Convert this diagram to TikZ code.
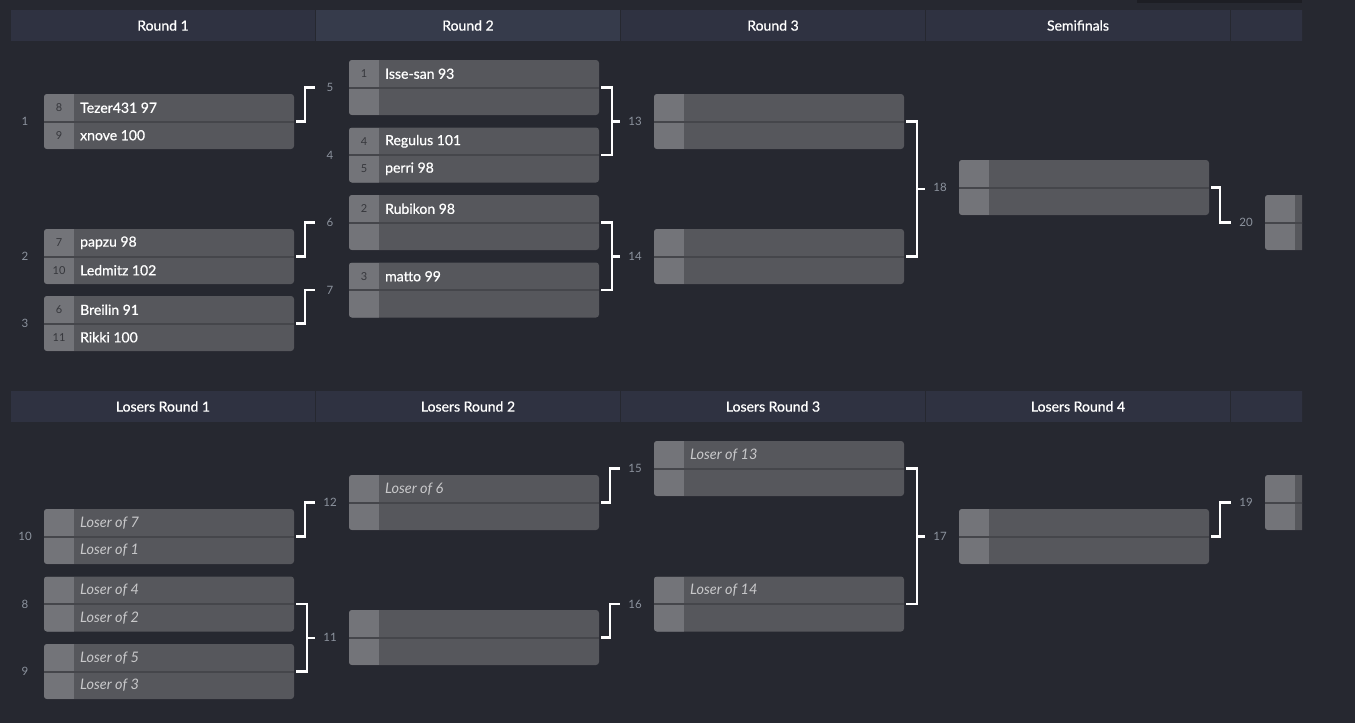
\documentclass[tikz,border=0pt]{standalone}
\usepackage{fontspec}
\setmainfont{Lato}
\newfontfamily\semifont[FakeBold=0.7]{Lato}
\usetikzlibrary{calc}
\definecolor{bg}{HTML}{262830}
\definecolor{hdr}{HTML}{2F3241}
\definecolor{hdrsel}{HTML}{363B4B}
\definecolor{boxcol}{HTML}{56575C}
\definecolor{seedcol}{HTML}{737479}
\definecolor{divcol}{HTML}{45464B}
\definecolor{seedtxt}{HTML}{36373C}
\definecolor{numcol}{HTML}{8C939E}
\definecolor{losertxt}{HTML}{C8C8CA}
\definecolor{strip}{HTML}{1D1E24}
\tikzset{
  hdrbar/.style={rectangle, fill=hdr, minimum width=304pt, minimum height=31pt, inner sep=0pt,
    text=white, font=\semifont\fontsize{14}{16}\selectfont},
  matchbox/.style={rectangle, rounded corners=3pt, fill=boxcol, minimum width=250pt, minimum height=55pt, inner sep=0pt},
  nametext/.style={anchor=west, inner sep=0pt, text=white, font=\semifont\fontsize{14}{16}\selectfont},
  losertext/.style={anchor=west, inner sep=0pt, text=losertxt, font=\fontsize{14.5}{16}\selectfont\itshape},
  seedtext/.style={inner sep=0pt, text=seedtxt, font=\fontsize{11}{12}\selectfont},
  mnum/.style={inner sep=0pt, text=numcol, font=\fontsize{11.5}{13}\selectfont},
  conn/.style={draw=white, line width=2.5pt},
  divider/.style={draw=divcol, line width=2pt}
}
% #1 name, #2 x left, #3 y centre, #4 seed1, #5 text1, #6 seed2, #7 text2, #8 text style, #9 match number
\newcommand\bmatch[9]{%
  \node[matchbox] (#1) at (#2+125,#3) {};
  \begin{scope}
    \clip[rounded corners=3pt] (#2,#3-27.5) rectangle (#2+250,#3+27.5);
    \fill[seedcol] (#2,#3-27.5) rectangle (#2+30,#3+27.5);
  \end{scope}
  \draw[divider] (#2,#3) -- (#2+250,#3);
  \if\relax\detokenize{#4}\relax\else\node[seedtext] (#1-s1) at (#2+15,#3-13.75) {#4};\fi
  \if\relax\detokenize{#5}\relax\else\node[#8] (#1-t1) at (#2+36,#3-13.75) {#5};\fi
  \if\relax\detokenize{#6}\relax\else\node[seedtext] (#1-s2) at (#2+15,#3+13.75) {#6};\fi
  \if\relax\detokenize{#7}\relax\else\node[#8] (#1-t2) at (#2+36,#3+13.75) {#7};\fi
  \node[mnum] (#1-n) at (#2-19,#3) {#9};
  \coordinate (#1-in) at (#2-34,#3);
}
\newcommand\feed[2]{%
  \draw[conn] ([xshift=2pt]#1.east) -- ([xshift=11pt]#1.east) |- (#2-in);
}
\newcommand\bracket[3]{%
  \draw[conn] ([xshift=2pt]#1.east) -- ([xshift=13pt]#1.east) -- ([xshift=13pt]#2.east) -- ([xshift=2pt]#2.east);
  \coordinate (#3-mid) at ($([xshift=13pt]#1.east)!0.5!([xshift=13pt]#2.east)$);
  \draw[conn] (#3-mid) -- (#3-mid -| #3-in);
}
\begin{document}
\begin{tikzpicture}[x=1pt,y=-1pt]
\fill[bg] (0,0) rectangle (1355,723);
\useasboundingbox (0,0) rectangle (1355,723);
\fill[strip] (1137,0) rectangle (1302,2.5);
\begin{scope}
\clip (0,0) rectangle (1302,723);
% headers
\node[hdrbar] (h1) at (163,25.5) {Round 1};
\node[hdrbar, fill=hdrsel] (h2) at (468,25.5) {Round 2};
\node[hdrbar] (h3) at (773,25.5) {Round 3};
\node[hdrbar] (h4) at (1078,25.5) {Semifinals};
\node[hdrbar] (h5) at (1383,25.5) {};
\node[hdrbar] (l1) at (163,406.5) {Losers Round 1};
\node[hdrbar] (l2) at (468,406.5) {Losers Round 2};
\node[hdrbar] (l3) at (773,406.5) {Losers Round 3};
\node[hdrbar] (l4) at (1078,406.5) {Losers Round 4};
\node[hdrbar] (l5) at (1383,406.5) {};
% winners bracket
\bmatch{m1}{44}{121.5}{8}{Tezer431 97}{9}{xnove 100}{nametext}{1}
\bmatch{m2}{44}{256.5}{7}{papzu 98}{10}{Ledmitz 102}{nametext}{2}
\bmatch{m3}{44}{323.5}{6}{Breilin 91}{11}{Rikki 100}{nametext}{3}
\bmatch{m5}{349}{87.5}{1}{Isse-san 93}{}{}{nametext}{5}
\bmatch{m4}{349}{155}{4}{Regulus 101}{5}{perri 98}{nametext}{4}
\bmatch{m6}{349}{222.5}{2}{Rubikon 98}{}{}{nametext}{6}
\bmatch{m7}{349}{290}{3}{matto 99}{}{}{nametext}{7}
\bmatch{m13}{654}{121.5}{}{}{}{}{nametext}{13}
\bmatch{m14}{654}{256.5}{}{}{}{}{nametext}{14}
\bmatch{m18}{959}{187.5}{}{}{}{}{nametext}{18}
\bmatch{m20}{1265}{222.5}{}{}{}{}{nametext}{20}
% losers bracket
\bmatch{m10}{44}{536.5}{}{Loser of 7}{}{Loser of 1}{losertext}{10}
\bmatch{m8}{44}{604}{}{Loser of 4}{}{Loser of 2}{losertext}{8}
\bmatch{m9}{44}{671.5}{}{Loser of 5}{}{Loser of 3}{losertext}{9}
\bmatch{m12}{349}{502.5}{}{Loser of 6}{}{}{losertext}{12}
\bmatch{m11}{349}{637.5}{}{}{}{}{losertext}{11}
\bmatch{m15}{654}{468.5}{}{Loser of 13}{}{}{losertext}{15}
\bmatch{m16}{654}{604}{}{Loser of 14}{}{}{losertext}{16}
\bmatch{m17}{959}{536.5}{}{}{}{}{losertext}{17}
\bmatch{m19}{1265}{502.5}{}{}{}{}{losertext}{19}
% connectors
\feed{m1}{m5}
\feed{m2}{m6}
\feed{m3}{m7}
\bracket{m5}{m4}{m13}
\bracket{m6}{m7}{m14}
\bracket{m13}{m14}{m18}
\feed{m18}{m20}
\feed{m10}{m12}
\bracket{m8}{m9}{m11}
\feed{m12}{m15}
\feed{m11}{m16}
\bracket{m15}{m16}{m17}
\feed{m17}{m19}
\end{scope}
\end{tikzpicture}
\end{document}
